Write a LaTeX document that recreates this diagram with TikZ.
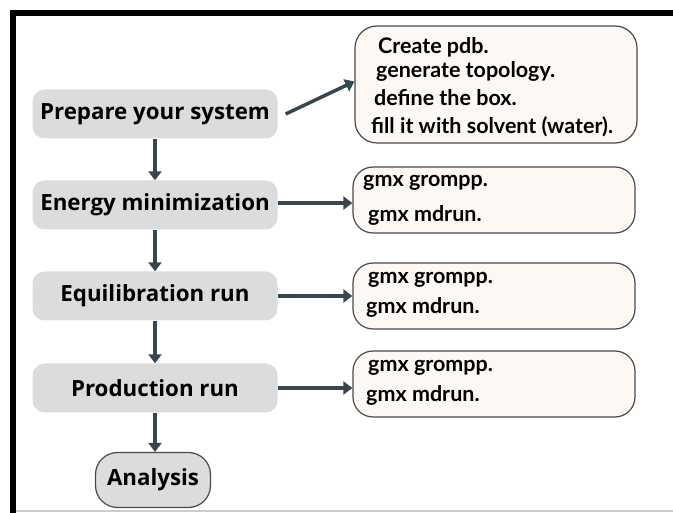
\documentclass[tikz,border=0pt]{standalone}
\usepackage{fontspec}
\setmainfont{Open Sans}
\newfontfamily\cmdfont{Lato}
\usepackage{tikz}
\usetikzlibrary{arrows.meta, positioning}
\definecolor{arrowslate}{HTML}{37474F}
\definecolor{stepgray}{HTML}{DCDCDC}
\definecolor{notecream}{HTML}{FDF8F4}
\definecolor{edgegray}{HTML}{4A4A4A}

\begin{document}
\begin{tikzpicture}[
  x=1pt, y=-1pt,
  stage/.style={fill=stepgray, rounded corners=12pt, minimum width=245pt,
    minimum height=49pt, inner sep=0pt,
    font=\bfseries\fontsize{22.3}{26}\selectfont},
  note/.style={draw=edgegray, line width=1.2pt, fill=notecream,
    rounded corners=20pt, minimum width=282pt, inner sep=0pt},
  cmd/.style={anchor=west, inner sep=0pt,
    font=\cmdfont\bfseries\fontsize{21.5}{25}\selectfont},
  flow/.style={-{Triangle[width=13pt,length=9pt]}, line width=3.5pt,
    draw=arrowslate},
]
  \useasboundingbox (0,0) rectangle (673,513);
  % Frame
  \fill (10,10) rectangle (673,16);
  \fill (10,10) rectangle (16,513);
  \draw[black!20, line width=1.5pt] (16,511) -- (673,511);

  % Steps
  \node[stage] (prep) at (155,114) {Prepare your system};
  \node[stage] (energy) at (155,205) {Energy minimization};
  \node[stage] (equil) at (155,296) {Equilibration run};
  \node[stage] (prod) at (155,388) {Production run};
  \node[stage, draw=edgegray, line width=1.2pt, minimum width=115pt,
    minimum height=55pt, rounded corners=22pt] (analysis) at (153,480)
    {Analysis};

  % Notes
  \node[note, minimum height=117pt, rounded corners=22pt] (setup)
    at (496,84.5) {};
  \node[cmd] (pdb) at (378,47) {Create pdb.};
  \node[cmd] (topol) at (376,71) {generate topology.};
  \node[cmd] (boxdef) at (374,98) {define the box.};
  \node[cmd] (solv) at (371,127) {fill it with solvent (water).};

  \foreach \n/\y/\ga/\gy/\ma/\my in {em/200/363/183/368/215,
      eq/296/368/280/366/307, md/384/368/368/366/395} {
    \node[note, minimum height=66pt] (\n box) at (494,\y) {};
    \node[cmd] (\n grompp) at (\ga,\gy) {gmx grompp.};
    \node[cmd] (\n mdrun) at (\ma,\my) {gmx mdrun.};
  }

  % Arrows down
  \draw[flow] (prep.south) -- (prep.south |- energy.north);
  \draw[flow] (energy.south) -- (energy.south |- equil.north);
  \draw[flow] (equil.south) -- (equil.south |- prod.north);
  \draw[flow] (prod.south) -- (prod.south |- analysis.north);

  % Arrows right
  \draw[flow] ([xshift=8pt]prep.east) -- ([yshift=3pt]setup.west);
  \draw[flow] ([yshift=2pt]energy.east) -- ([yshift=2pt]energy.east -| embox.west);
  \draw[flow] (equil.east) -- (equil.east -| eqbox.west);
  \draw[flow] (prod.east) -- (prod.east -| mdbox.west);
\end{tikzpicture}
\end{document}
